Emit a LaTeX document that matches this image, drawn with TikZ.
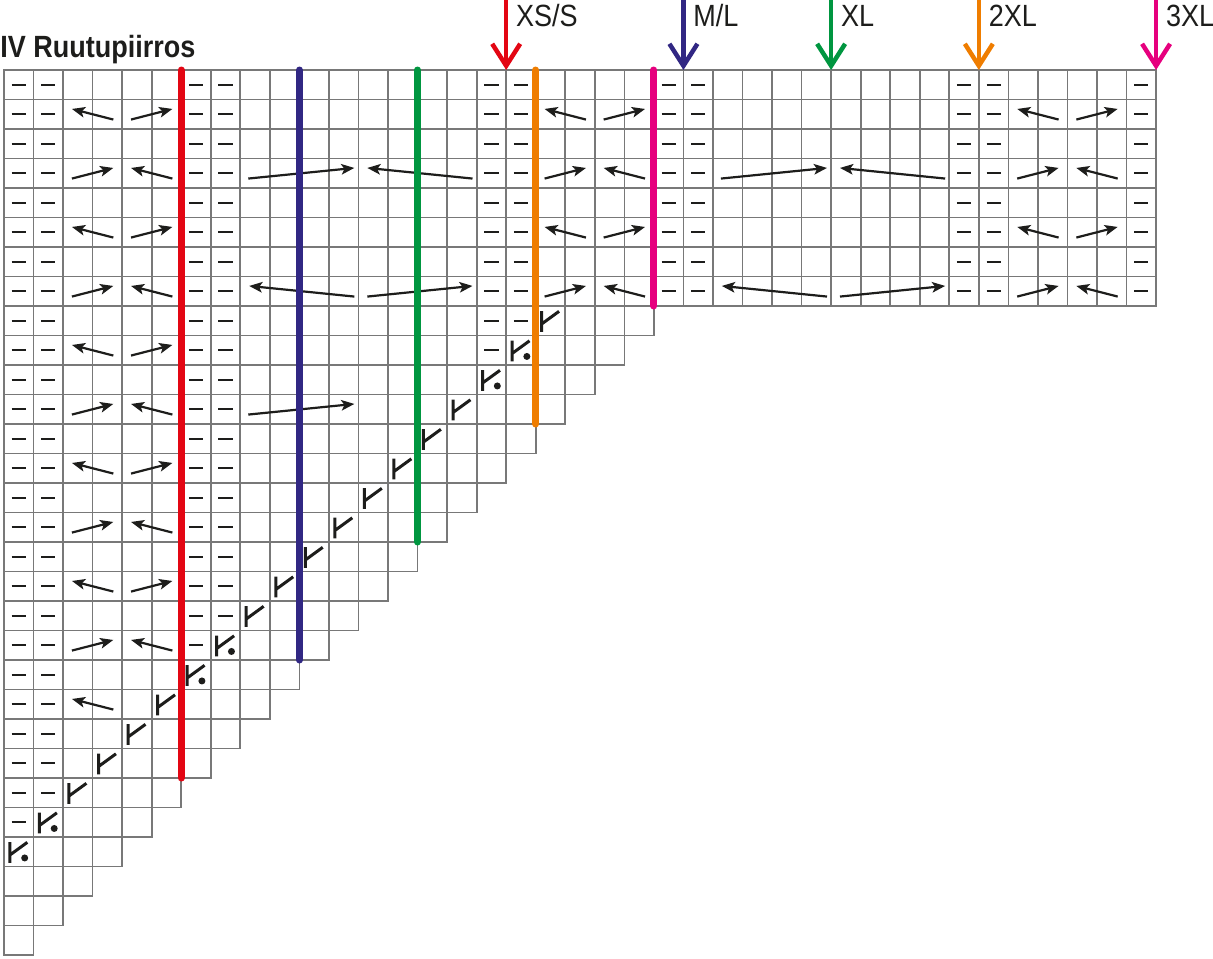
\documentclass[tikz,border=0pt]{standalone}
\usepackage{fontspec}
\newfontfamily\chartfont[FakeStretch=0.88]{Liberation Sans}
\usetikzlibrary{arrows.meta}
\definecolor{szred}{RGB}{227,6,19}
\definecolor{szblue}{RGB}{49,39,131}
\definecolor{szgreen}{RGB}{0,150,64}
\definecolor{szorange}{RGB}{239,125,0}
\definecolor{szpink}{RGB}{230,0,126}
\definecolor{gridgray}{RGB}{120,120,120}
\definecolor{ink}{RGB}{29,29,27}

\begin{document}
\begin{tikzpicture}[x=29.54pt, y=-29.5pt,
    cell/.style={draw=gridgray, line width=1.7pt},
    cable/.style={draw=ink, line width=2.2pt, -{Stealth[length=13pt,width=10.5pt,inset=3pt]}},
    sizeline/.style={line width=7pt, line cap=round},
    sizearrow/.style={line width=4.5pt, -{Straight Barb[length=22pt,width=28pt]}},
    sizelabel/.style={font=\chartfont\fontsize{30.7}{36}\selectfont, inner sep=0pt, text=ink, anchor=base west},
    charttitle/.style={font=\chartfont\bfseries\fontsize{30.7}{36}\selectfont, inner sep=0pt, text=ink, anchor=base west},
    purlmark/.pic={\draw[ink, line width=2.4pt] (-0.24,0) -- (0.24,0);},
    decmark/.pic={\draw[ink, line width=3pt] (-0.3,-0.33) -- (-0.3,0.38) (-0.3,0.11) -- (0.29,-0.32);},
    stitchdot/.pic={\fill[ink] (0.2,0.21) circle[radius=3.5pt];},
    spread/.pic={\draw[cable] (0.7,0.18) -- (-0.7,-0.18); \draw[cable] (1.3,0.18) -- (2.7,-0.18);},
    converge/.pic={\draw[cable] (-0.7,0.18) -- (0.7,-0.18); \draw[cable] (2.7,0.18) -- (1.3,-0.18);},
    longspread/.pic={\draw[cable] (2.86,0.18) -- (-0.7,-0.18); \draw[cable] (3.3,0.18) -- (6.86,-0.18);},
    longconverge/.pic={\draw[cable] (-0.73,0.18) -- (2.86,-0.18); \draw[cable] (6.86,0.18) -- (3.3,-0.18);}]
  \useasboundingbox (-0.1354,-2.3729) rectangle (40.927,30.102);

  % chart grid
  \foreach \r in {1,...,30}{
    \pgfmathtruncatemacro\n{\r<9 ? 39 : 31-\r}
    \foreach \c in {1,...,\n} \draw[cell] (\c-1,\r-1) rectangle (\c,\r);
  }

  % purl stitches
  \foreach \r in {1,...,8}
    \foreach \c in {1,2,7,8,17,18,23,24,33,34,39}
      \pic at (\c-0.5,\r-0.5) {purlmark};
  \foreach \r in {9,...,25}
    \foreach \c in {1,2} \pic at (\c-0.5,\r-0.5) {purlmark};
  \foreach \r in {9,...,19}
    \foreach \c in {7,8} \pic at (\c-0.5,\r-0.5) {purlmark};
  \foreach \c/\r in {17/9,18/9,17/10,7/20,1/26}
    \pic at (\c-0.5,\r-0.5) {purlmark};

  % decreases
  \foreach \r in {9,...,27}{
    \pgfmathtruncatemacro\c{28-\r}
    \pic at (\c-0.5,\r-0.5) {decmark};
  }
  \foreach \r in {10,11,20,21,26,27}
    \pic at (27.5-\r,\r-0.5) {stitchdot};

  % cables
  \foreach \s/\r in {3/2,3/6,3/10,3/14,3/18,19/2,19/6,35/2,35/6}
    \pic at (\s,\r-0.5) {spread};
  \foreach \s/\r in {3/4,3/8,3/12,3/16,3/20,19/4,19/8,35/4,35/8}
    \pic at (\s,\r-0.5) {converge};
  \foreach \s in {9,25}{
    \pic at (\s,3.5) {longconverge};
    \pic at (\s,7.5) {longspread};
  }
  \draw[cable] (8.27,11.68) -- (11.86,11.32);
  \draw[cable] (3.7,21.68) -- (2.3,21.32);

  % size lines
  \foreach \j/\b/\col in {6/24/szred,10/20/szblue,14/16/szgreen,18/12/szorange,22/8/szpink}
    \draw[sizeline,\col] (\j,0) -- (\j,\b);

  % size arrows
  \foreach \j/\txt/\col/\nm in {17/{XS/S}/szred/xs,23/{M/L}/szblue/ml,28/XL/szgreen/xl,33/2XL/szorange/xxl,39/3XL/szpink/xxxl}{
    \coordinate (top\nm) at (\j,-2.3729);
    \coordinate (tip\nm) at (\j,0);
    \draw[sizearrow,\col] (top\nm) -- (tip\nm);
    \node[sizelabel] (lab\nm) at (\j+0.33,-1.458) {\txt};
  }

  \node[charttitle] (title) at (-0.13,-0.44) {IV Ruutupiirros};
\end{tikzpicture}
\end{document}
